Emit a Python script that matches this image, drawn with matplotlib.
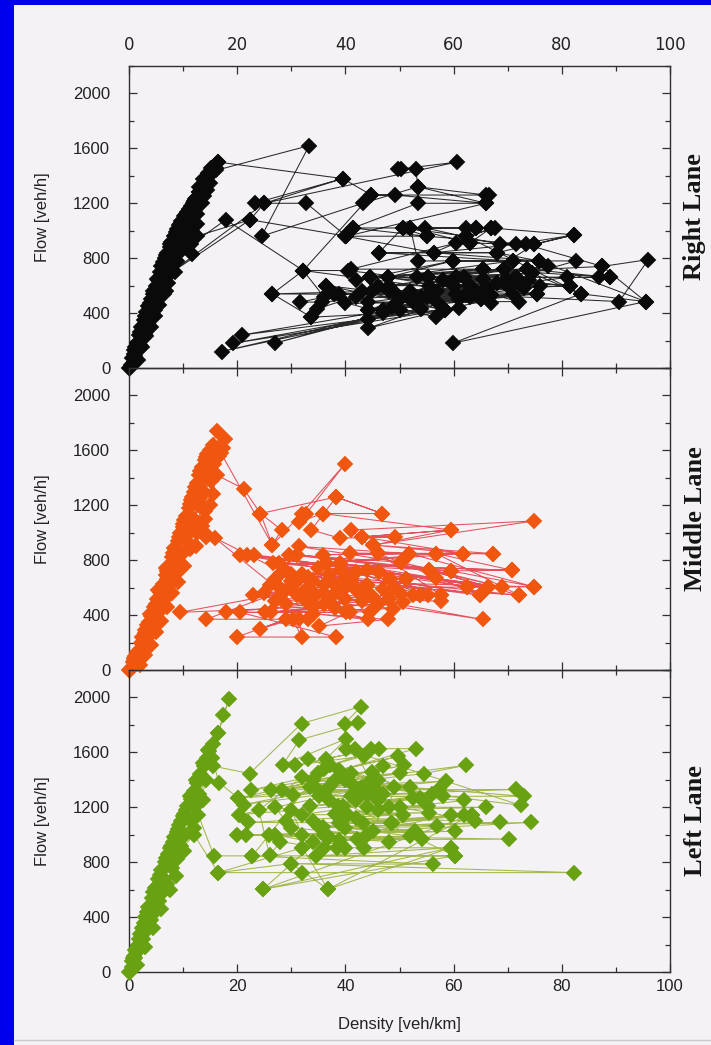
import matplotlib
matplotlib.use("Agg")
import matplotlib.pyplot as plt
from matplotlib.patches import Rectangle
from matplotlib.lines import Line2D
from matplotlib.ticker import MultipleLocator

# ---------------- data: time-ordered (density [veh/km], flow [veh/h]) ----------------
right_lane = [
    (0.1, 0), (0.6, 70), (1.0, 130), (1.4, 180), (1.2, 150), (1.9, 240), (2.3, 300), (2.0, 260), (2.8, 350), (3.2, 410),
    (3.0, 380), (3.6, 450), (4.1, 500), (3.8, 470), (4.5, 560), (4.9, 600), (4.4, 540), (5.3, 640), (5.8, 700), (5.2, 650),
    (6.0, 740), (6.6, 800), (6.2, 770), (7.0, 840), (7.5, 880), (6.8, 820), (7.8, 920), (8.3, 960), (7.6, 900), (8.6, 990),
    (9.2, 1040), (8.8, 1010), (9.6, 1070), (10.2, 1110), (9.4, 1050), (10.5, 1120), (11.0, 1160), (10.4, 1100), (11.4, 1180), (12.0, 1220),
    (11.2, 1150), (12.4, 1240), (12.9, 1280), (12.2, 1230), (13.3, 1300), (13.8, 1340), (13.0, 1280), (14.2, 1360), (14.8, 1400), (14.0, 1330),
    (15.3, 1420), (16.0, 1460), (16.4, 1500), (16.1, 1440),
    (33.3, 1620), (24.5, 960), (43.2, 1200), (53.4, 1320), (66.0, 1260), (66.5, 1260), (44.8, 1260), (49.1, 1260), (66.0, 1200), (53.4, 1200),
    (41.4, 1020), (62.2, 1020), (64.1, 1020), (50.6, 1020), (46.2, 840), (68.0, 840), (82.3, 970), (71.5, 900), (56.3, 840), (40.0, 960),
    (55.0, 960), (73.4, 900), (87.5, 740), (96.0, 790), (90.6, 484), (60.5, 540), (74.9, 900), (68.5, 900), (54.8, 1020), (52.0, 1020),
    (53.4, 780), (75.7, 780), (95.5, 484), (59.8, 180), (83.5, 540), (62.3, 960), (67.7, 1020), (66.9, 1020), (63.0, 910), (60.5, 910),
    (41.0, 720), (65.4, 720), (89.0, 660), (86.9, 660), (44.6, 660), (69.4, 720), (70.9, 780), (47.8, 660), (59.8, 780), (82.6, 780),
    (74.5, 690), (53.3, 660), (62.0, 660), (81.0, 660), (44.2, 480), (72.0, 484), (55.2, 660), (77.5, 740), (49.3, 540), (73.6, 720),
    (65.4, 650), (44.2, 420), (60.5, 660), (81.5, 600), (51.7, 540), (69.7, 650), (44.2, 360), (71.6, 660), (55.4, 600), (46.9, 423),
    (75.5, 540), (52.5, 484), (70.9, 540), (44.2, 290), (62.3, 540), (48.7, 447), (56.8, 370), (58.5, 420),
    (33.7, 370), (34.7, 430), (45.0, 560), (36.5, 600), (37.9, 540), (64.0, 560), (38.8, 540), (31.7, 480), (35.6, 480), (66.0, 580),
    (26.5, 540), (67.0, 530), (32.2, 710), (40.5, 710), (63.0, 600), (68.0, 620), (60.0, 600), (72.0, 620), (58.0, 640), (73.0, 580),
    (57.0, 560), (74.0, 640), (55.0, 520), (76.0, 600), (53.0, 470), (65.0, 500), (50.0, 500), (67.0, 470), (48.0, 560), (70.0, 600),
    (46.0, 600), (42.0, 520), (40.0, 470), (57.0, 480), (20.8, 240), (61.0, 440), (19.3, 180), (54.0, 430), (17.1, 120), (50.0, 420),
    (26.9, 180), (47.0, 400), (36.0, 520), (32.2, 710), (44.8, 1260), (39.5, 1380), (23.2, 1200), (32.8, 1200), (40.2, 960), (22.4, 1080),
    (12.5, 960), (11.7, 834),
    (13.5, 1200), (14.5, 1300), (15.0, 1350), (13.8, 1250), (12.8, 1180), (11.8, 1100), (12.6, 1120), (10.8, 1050), (11.6, 1000), (9.8, 980),
    (10.4, 940), (9.0, 900), (9.8, 860), (8.2, 840), (8.8, 780), (7.4, 760), (8.0, 700), (22.4, 1080), (25.0, 1200), (7.2, 680),
    (6.6, 680), (7.2, 620), (5.8, 600), (6.4, 540), (5.0, 520), (5.6, 460), (4.2, 440), (4.8, 380), (3.4, 360), (4.0, 300),
    (2.6, 280), (3.2, 230), (1.8, 200), (2.4, 150), (1.0, 100), (1.6, 60), (0.3, 20),
    (0.8, 40), (2.1, 170), (3.5, 330), (5.5, 580), (7.2, 780), (8.0, 860), (9.0, 960), (10.0, 1060), (10.8, 1140), (11.8, 1200),
    (13.0, 1320), (14.2, 1380), (15.2, 1460), (14.6, 1420), (13.6, 1380), (16.5, 1500),
    (39.5, 1380), (25.0, 1200), (60.6, 1500), (50.3, 1450), (49.7, 1450), (53.0, 1450), (53.4, 1320), (66.0, 1200), (40.2, 960), (41.4, 1020),
    (55.0, 960), (50.6, 1020), (62.3, 960), (64.1, 1020), (52.0, 1020), (63.0, 910), (74.9, 900), (82.3, 970), (66.9, 1020), (56.3, 840),
    (75.7, 780), (68.0, 840), (46.2, 840), (70.9, 780), (59.8, 780), (42.0, 640), (65.4, 720), (44.6, 660), (87.5, 740), (95.5, 484),
    (83.5, 540), (74.5, 690), (62.0, 660), (89.0, 660), (73.6, 720), (55.2, 660), (69.4, 720), (48.0, 600), (71.6, 660), (60.5, 660),
    (81.5, 600), (66.0, 580), (52.0, 560), (75.5, 540), (63.0, 600), (47.8, 660), (64.0, 560), (58.0, 640), (70.0, 600), (56.0, 560),
    (68.0, 620), (54.0, 520), (72.0, 620), (50.0, 500), (67.0, 530), (46.9, 423), (63.0, 520), (44.2, 420), (61.0, 500), (51.7, 540),
    (65.0, 500), (49.3, 540), (60.5, 540), (43.0, 560), (58.5, 420), (36.5, 600), (33.7, 370), (26.5, 540), (32.2, 710), (17.9, 1080),
    (11.5, 900), (12.5, 1050), (10.5, 900), (8.5, 700), (6.8, 560), (4.8, 420), (3.0, 250), (1.2, 90), (0.0, 0),
]

middle_lane = [
    (0.2, 0), (0.8, 60), (1.5, 130), (1.2, 100), (2.2, 200), (2.9, 270), (2.5, 230), (3.4, 330), (4.0, 390), (3.7, 350),
    (4.6, 460), (5.2, 520), (4.9, 480), (5.7, 570), (6.3, 630), (5.9, 600), (6.8, 690), (7.4, 760), (7.0, 720), (7.9, 820),
    (8.5, 880), (8.1, 850), (9.0, 940), (9.5, 1000), (9.2, 970), (10.0, 1060), (10.5, 1120), (10.2, 1090), (11.0, 1180), (11.5, 1240),
    (11.2, 1210), (12.0, 1300), (12.5, 1360), (12.2, 1330), (13.0, 1420), (13.5, 1480), (13.2, 1450), (14.0, 1530), (14.5, 1570), (14.2, 1550),
    (15.0, 1600), (15.5, 1640), (16.2, 1740), (17.7, 1680), (17.3, 1620), (16.6, 1560), (15.8, 1500), (16.2, 1420),
    (21.2, 1320), (24.3, 1140), (28.2, 1020), (26.5, 910), (31.9, 1140), (39.9, 1500), (32.8, 1140), (31.5, 1080), (35.8, 1140), (46.8, 1140),
    (38.3, 1260), (33.7, 1020), (39.0, 960), (49.1, 970), (43.1, 970), (59.5, 1020), (45.1, 910), (74.9, 1086), (41.1, 1020), (46.0, 850),
    (67.3, 848), (40.8, 850), (61.7, 848), (36.5, 780), (56.8, 848), (35.8, 840), (51.8, 848), (31.4, 900), (50.3, 785), (29.5, 840),
    (55.4, 727), (31.1, 840), (59.5, 722), (27.8, 780), (70.8, 727), (26.6, 780), (56.7, 670), (39.0, 780), (62.4, 606), (23.1, 840),
    (66.4, 606), (21.9, 840), (68.9, 606), (20.5, 840), (64.9, 545), (29.1, 720), (72.1, 545), (31.0, 650), (74.9, 606), (33.0, 600),
    (65.4, 368), (34.6, 550), (39.2, 727), (42.0, 715), (44.0, 727), (46.3, 715), (48.2, 660), (51.2, 660), (53.7, 545), (55.3, 545),
    (57.7, 545), (57.7, 500), (31.0, 545), (32.8, 500), (44.2, 368), (34.0, 410), (47.8, 368), (35.2, 320), (40.8, 424), (44.5, 424),
    (22.9, 545), (48.8, 448), (25.1, 420), (50.7, 497), (26.3, 420), (52.5, 545), (17.9, 420), (40.2, 420), (20.5, 420), (38.3, 240),
    (19.9, 240), (29.1, 370), (24.3, 300), (30.3, 370), (31.9, 240), (31.5, 370), (33.0, 370), (14.3, 370), (30.0, 600), (32.0, 560),
    (34.0, 650), (36.0, 620), (37.0, 700), (38.0, 560), (40.0, 600), (41.0, 650), (42.0, 580), (43.0, 500), (44.0, 620), (45.0, 540),
    (46.0, 480), (47.0, 590), (48.0, 520), (49.0, 600), (50.0, 560), (36.0, 480), (38.0, 450), (40.0, 520), (28.0, 600), (27.0, 660),
    (30.0, 700), (33.0, 680), (35.0, 740), (37.0, 500), (29.0, 480), (27.0, 500), (34.0, 460), (9.4, 420), (28.5, 560), (15.9, 960),
    (14.3, 970), (13.5, 1050), (15.0, 1200), (14.0, 1100), (12.5, 1000), (13.8, 1300), (15.2, 1380), (14.6, 1450), (12.8, 1200), (11.8, 1050),
    (12.4, 900), (11.2, 880), (10.5, 950), (10.0, 850), (9.4, 780), (10.2, 760), (8.6, 700), (9.0, 640), (7.6, 620), (8.0, 560),
    (6.6, 520), (7.0, 460), (5.6, 420), (6.0, 360), (4.6, 330), (5.0, 280), (3.6, 240), (4.0, 180), (2.6, 160), (3.0, 110),
    (1.6, 80), (2.0, 40), (0.6, 20), (0.0, 0),
    (1.0, 90), (2.4, 240), (3.9, 410), (5.4, 580), (6.9, 740), (8.4, 890), (9.9, 1040), (11.4, 1200), (12.9, 1350), (14.4, 1500),
    (15.4, 1560), (14.8, 1490), (13.6, 1400), (12.6, 1300), (11.6, 1260), (13.0, 1220), (14.0, 1160), (15.6, 1280), (16.4, 1620), (17.0, 1580),
    (26.5, 910), (24.3, 1140), (38.3, 1260), (46.8, 1140), (35.8, 1140), (59.5, 1020), (43.1, 970), (61.7, 848), (45.1, 910), (67.3, 848),
    (51.8, 848), (74.9, 606), (59.5, 722), (70.8, 727), (56.8, 848), (72.1, 545), (55.4, 727), (68.9, 606), (50.3, 785), (66.4, 606),
    (62.4, 606), (64.9, 545), (46.0, 850), (57.7, 545), (48.2, 660), (53.7, 545), (42.0, 715), (51.2, 660), (39.2, 727), (44.0, 620),
    (32.0, 700), (46.3, 715), (30.0, 650), (43.0, 580), (28.0, 700), (40.0, 660), (26.0, 620), (38.0, 620), (25.0, 560), (36.0, 560),
    (14.0, 1000), (12.0, 1100), (13.2, 1250), (11.0, 1000), (9.0, 840), (7.0, 660), (5.0, 470), (3.0, 290), (1.0, 70),
]

left_lane = [
    (0.1, 0), (0.6, 80), (1.2, 160), (0.9, 120), (1.8, 240), (2.4, 320), (2.1, 280), (3.0, 400), (3.6, 470), (3.3, 440),
    (4.2, 540), (4.8, 610), (4.5, 580), (5.4, 680), (6.0, 740), (5.7, 710), (6.6, 800), (7.2, 860), (6.9, 830), (7.8, 920),
    (8.4, 980), (8.1, 950), (9.0, 1040), (9.6, 1100), (9.3, 1070), (10.2, 1150), (10.8, 1210), (10.5, 1180), (11.4, 1260), (12.0, 1320),
    (11.7, 1290), (12.6, 1380), (13.2, 1440), (12.9, 1410), (13.8, 1500), (14.4, 1560), (14.1, 1530), (14.8, 1610), (15.5, 1660), (16.5, 1740),
    (17.4, 1870), (18.5, 1990), (16.5, 1740), (15.5, 1500),
    (22.3, 1446), (31.9, 1810), (42.9, 1934), (39.9, 1810), (42.3, 1812), (31.5, 1690), (28.4, 1510), (40.2, 1700), (36.5, 1555), (44.8, 1622),
    (30.6, 1505), (43.5, 1574), (37.1, 1505), (46.3, 1627), (53.0, 1627), (38.9, 1470), (49.7, 1570), (22.6, 1325), (50.9, 1505), (26.3, 1325),
    (62.2, 1505), (54.6, 1446), (28.2, 1325), (50.0, 1452), (38.0, 1400), (40.0, 1400), (30.3, 1290), (58.6, 1390), (33.4, 1350), (57.3, 1330),
    (34.9, 1325), (71.5, 1330), (35.2, 1280), (73.0, 1280), (34.0, 1400), (72.4, 1215), (40.2, 1622), (41.7, 1622), (45.4, 1330), (20.2, 1267),
    (44.8, 1400), (21.2, 1220), (42.7, 1330), (20.4, 1146), (39.5, 1210), (58.0, 1280), (38.6, 1207), (55.2, 1210), (39.9, 1158), (55.4, 1160),
    (40.5, 1146), (52.5, 1270), (33.4, 1210), (53.7, 1270), (31.9, 1146), (50.7, 1146), (22.0, 1090), (48.6, 1085), (38.9, 1085), (62.0, 1146),
    (43.2, 1085), (63.4, 1146), (48.5, 1085), (59.5, 1146), (45.1, 1025), (74.3, 1090), (35.2, 1055), (68.6, 1090), (35.8, 1055), (52.9, 1030),
    (25.9, 1000), (60.3, 1025), (21.7, 1000), (54.1, 968), (19.9, 1000), (70.3, 968), (38.9, 963), (42.2, 968), (32.0, 905), (43.5, 905),
    (38.4, 905), (59.5, 905), (34.6, 846), (60.2, 846), (22.8, 846), (56.1, 785), (30.0, 790), (82.3, 724), (32.0, 724), (16.5, 724),
    (32.0, 905), (36.8, 603), (59.5, 905), (24.8, 603), (60.2, 846), (36.0, 1300), (37.0, 1250), (41.0, 1280), (42.0, 1250), (43.0, 1350),
    (44.0, 1200), (46.0, 1250), (47.0, 1300), (48.0, 1200), (49.0, 1350), (45.0, 1460), (47.0, 1500), (38.0, 1150), (37.0, 1350), (29.0, 1100),
    (27.0, 1200), (30.0, 1180), (32.0, 1000), (34.0, 950), (36.0, 900), (28.0, 950), (26.0, 850), (24.0, 1180), (32.0, 1420), (35.0, 1450),
    (22.8, 846), (15.7, 846), (12.8, 1146),
    (14.2, 1400), (13.0, 1300), (13.6, 1250), (12.2, 1200), (11.4, 1100), (12.0, 1050), (10.4, 1000), (9.6, 920), (10.2, 880), (8.8, 820),
    (8.0, 760), (8.6, 700), (7.6, 600), (7.0, 640), (6.2, 580), (5.6, 520), (6.0, 460), (4.8, 440), (4.0, 380), (4.4, 320),
    (3.2, 300), (2.6, 240), (3.0, 180), (1.8, 160), (1.2, 100), (1.5, 50), (0.0, 0),
    (0.8, 100), (1.6, 200), (2.8, 360), (3.8, 480), (5.0, 620), (6.4, 760), (7.6, 900), (8.8, 1020), (10.0, 1140), (11.2, 1280),
    (12.4, 1400), (13.6, 1520), (14.6, 1620), (15.4, 1560), (16.6, 1380),
    (20.2, 1267), (41.0, 1450), (33.0, 1550), (46.0, 1400), (36.0, 1480), (52.0, 1350), (41.0, 1380), (56.0, 1300), (44.0, 1290), (62.0, 1250),
    (46.0, 1180), (66.0, 1200), (50.0, 1200), (64.0, 1100), (42.0, 1120), (57.0, 1060), (40.0, 1050), (52.0, 990), (37.0, 980), (48.0, 950),
    (34.0, 1100), (44.0, 1000), (30.0, 1050), (40.0, 900), (27.0, 1000), (36.0, 1000), (24.8, 603), (63.4, 1146), (36.8, 603), (30.0, 790),
    (16.5, 724), (12.0, 1000), (9.0, 860), (6.5, 680), (4.0, 420), (2.0, 200), (0.5, 40),
]

lanes = ["Right Lane", "Middle Lane", "Left Lane"]
lane_data = [right_lane, middle_lane, left_lane]
marker_colors = ["#0a0a0a", "#f0560f", "#68a212"]
line_colors = ["#2a2a2a", "#e5505a", "#a2b84c"]

x_ticks = [0, 20, 40, 60, 80, 100]
y_ticks = [0, 400, 800, 1200, 1600, 2000]

# ---------------- figure ----------------
W, H = 711, 1045
fig = plt.figure(figsize=(W / 100, H / 100), dpi=100)
fig.patch.set_facecolor("#0000ec")
paper = "#f4f2f5"
fig.add_artist(Rectangle((14 / W, 0), 1 - 14 / W, 1 - 5 / H, transform=fig.transFigure,
                         facecolor=paper, edgecolor="none", zorder=-10))
fig.add_artist(Line2D([14 / W, 1], [1 - 1040 / H] * 2, transform=fig.transFigure,
                      color="#c9c9c9", lw=1.0, zorder=-5))

left = 129 / W
width = (670 - 129) / W
ph = 302 / H
bottoms = [1 - 972 / H + 2 * ph, 1 - 972 / H + ph, 1 - 972 / H]

for i, (name, data) in enumerate(zip(lanes, lane_data)):
    ax = fig.add_axes([left, bottoms[i], width, ph])
    ax.set_facecolor("none")
    xs = [p[0] for p in data]
    ys = [p[1] for p in data]
    ax.plot(xs, ys, "-", color=line_colors[i], lw=0.75, zorder=2, clip_on=False)
    ax.plot(xs, ys, "D", color=marker_colors[i], ms=7.8, mec=marker_colors[i], mew=0.3,
            zorder=3, clip_on=False, linestyle="none")
    ax.set_xlim(0, 100)
    ax.set_ylim(0, 2200)
    ax.set_xticks(x_ticks)
    ax.set_yticks(y_ticks)
    ax.xaxis.set_minor_locator(MultipleLocator(10))
    ax.yaxis.set_minor_locator(MultipleLocator(200))
    ax.tick_params(which="both", direction="in", top=True, right=True, color="#303030", width=0.9,
                   labelcolor="#222222", labelsize=12)
    ax.tick_params(which="major", length=6)
    ax.tick_params(which="minor", length=3.5)
    ax.tick_params(axis="y", pad=13.5)
    for lab in ax.get_xticklabels() + ax.get_yticklabels():
        lab.set_fontfamily("Liberation Sans")
    if i == 0:
        ax.tick_params(axis="x", labeltop=True, labelbottom=False, pad=9)
    elif i == 1:
        ax.tick_params(axis="x", labeltop=False, labelbottom=False)
    else:
        ax.tick_params(axis="x", labeltop=False, labelbottom=True, pad=5)
    for s in ax.spines.values():
        s.set_color("#303030")
        s.set_linewidth(1.0)
    cy = bottoms[i] + ph / 2
    fig.text(43 / W, cy, "Flow [veh/h]", rotation=90, ha="center", va="center",
             fontfamily="Liberation Sans", fontsize=12, color="#222222")
    fig.text(695 / W, cy, name, rotation=90, ha="center", va="center",
             fontfamily="Liberation Serif", fontweight="bold", fontsize=19, color="#151515")

fig.text(399 / W, 1 - 1025 / H, "Density [veh/km]", ha="center", va="center",
         fontfamily="Liberation Sans", fontsize=12, color="#222222")

fig.savefig("out.png", dpi=100, facecolor=fig.get_facecolor())
